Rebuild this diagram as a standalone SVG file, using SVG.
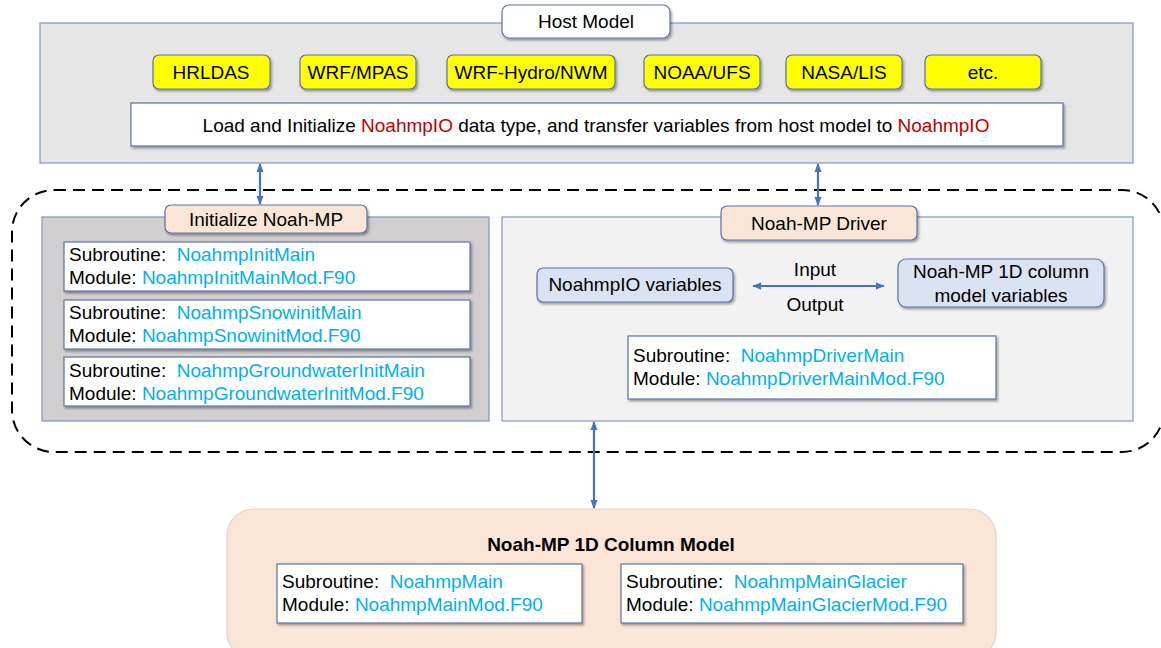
<svg xmlns="http://www.w3.org/2000/svg" width="1161" height="648" viewBox="0 0 1161 648">
<defs>
<filter id="sh" x="-5%" y="-10%" width="110%" height="130%">
<feDropShadow dx="1.5" dy="2" stdDeviation="1.2" flood-color="#000" flood-opacity="0.35"/>
</filter>
<marker id="ah" viewBox="0 0 10 10" refX="9" refY="5" markerWidth="9" markerHeight="9" markerUnits="userSpaceOnUse" orient="auto-start-reverse">
<path d="M0,1 L10,5 L0,9 Z" fill="#4472c4"/>
</marker>
</defs>
<style>
text{font-family:"Liberation Sans",Arial,sans-serif;font-size:19px;fill:#000}
.b{fill:#00b0f0}
.r{fill:#c00000}
.yel{fill:#ffff00;stroke:#5b72a6;stroke-width:1.2}
.sub{fill:#fff;stroke:#5b72a6;stroke-width:1.2}
.peach{fill:#fbe5d6;stroke:#5b72a6;stroke-width:1.2}
.lb{fill:#dae3f3;stroke:#5b72a6;stroke-width:1.2}
.conn{stroke:#4472c4;stroke-width:2.2;fill:none;marker-start:url(#ah);marker-end:url(#ah)}
</style>
<rect width="1161" height="648" fill="#fff"/>

<g id="dashed-region">
<rect x="12" y="190" width="1152" height="262" rx="42" fill="none" stroke="#000" stroke-width="2" stroke-dasharray="12,7"/>
</g>

<g id="host-model">
<rect x="40" y="23" width="1093" height="140" fill="#e7e6e6" stroke="#7f96c4" stroke-width="1.2"/>
<rect x="502" y="5" width="168" height="33" rx="7" fill="#fff" stroke="#5b72a6" stroke-width="1.2" filter="url(#sh)"/>
<text x="586" y="28" text-anchor="middle">Host Model</text>
</g>
<g id="hrldas"><rect class="yel" x="153" y="55" width="117" height="34" rx="6" filter="url(#sh)"/><text x="211" y="79" text-anchor="middle">HRLDAS</text></g>
<g id="wrf-mpas"><rect class="yel" x="300" y="55" width="116" height="34" rx="6" filter="url(#sh)"/><text x="358" y="79" text-anchor="middle">WRF/MPAS</text></g>
<g id="wrf-hydro"><rect class="yel" x="447" y="55" width="168" height="34" rx="6" filter="url(#sh)"/><text x="531" y="79" text-anchor="middle">WRF-Hydro/NWM</text></g>
<g id="noaa-ufs"><rect class="yel" x="644" y="55" width="116" height="34" rx="6" filter="url(#sh)"/><text x="702" y="79" text-anchor="middle">NOAA/UFS</text></g>
<g id="nasa-lis"><rect class="yel" x="786" y="55" width="116" height="34" rx="6" filter="url(#sh)"/><text x="844" y="79" text-anchor="middle">NASA/LIS</text></g>
<g id="etc"><rect class="yel" x="925" y="55" width="116" height="34" rx="6" filter="url(#sh)"/><text x="983" y="79" text-anchor="middle">etc.</text></g>
<g id="load-init">
<rect class="sub" x="131" y="103" width="932" height="43" filter="url(#sh)"/>
<text x="596" y="132" text-anchor="middle">Load and Initialize <tspan class="r">NoahmpIO</tspan> data type, and transfer variables from host model to <tspan class="r">NoahmpIO</tspan></text>
</g>

<g id="initialize-noahmp">
<rect x="42" y="217" width="447" height="204" fill="#d0cece" stroke="#7f96c4" stroke-width="1.2"/>
<rect class="peach" x="165" y="205" width="202" height="28" rx="6" filter="url(#sh)"/>
<text x="266" y="226" text-anchor="middle">Initialize Noah-MP</text>
</g>
<g id="init-main">
<rect class="sub" x="64" y="242" width="406" height="49" filter="url(#sh)"/>
<text x="69" y="261">Subroutine:&#160; <tspan class="b">NoahmpInitMain</tspan></text>
<text x="69" y="284">Module: <tspan class="b">NoahmpInitMainMod.F90</tspan></text>
</g>
<g id="snow-init">
<rect class="sub" x="64" y="300" width="406" height="49" filter="url(#sh)"/>
<text x="69" y="319">Subroutine:&#160; <tspan class="b">NoahmpSnowinitMain</tspan></text>
<text x="69" y="342">Module: <tspan class="b">NoahmpSnowinitMod.F90</tspan></text>
</g>
<g id="gw-init">
<rect class="sub" x="64" y="357" width="406" height="49" filter="url(#sh)"/>
<text x="69" y="377">Subroutine:&#160; <tspan class="b">NoahmpGroundwaterInitMain</tspan></text>
<text x="69" y="400">Module: <tspan class="b">NoahmpGroundwaterInitMod.F90</tspan></text>
</g>

<g id="noahmp-driver">
<rect x="502" y="217" width="631" height="204" fill="#f2f2f2" stroke="#7f96c4" stroke-width="1.2"/>
<rect class="peach" x="721" y="206" width="196" height="34" rx="6" filter="url(#sh)"/>
<text x="819" y="230" text-anchor="middle">Noah-MP Driver</text>
</g>
<g id="noahmpio-vars">
<rect class="lb" x="537" y="268" width="196" height="34" rx="6" filter="url(#sh)"/>
<text x="635" y="291" text-anchor="middle">NoahmpIO variables</text>
</g>
<g id="column-vars">
<rect class="lb" x="898" y="259" width="206" height="48" rx="8" filter="url(#sh)"/>
<text x="1001" y="278" text-anchor="middle">Noah-MP 1D column</text>
<text x="1001" y="302" text-anchor="middle">model variables</text>
</g>
<g id="driver-main">
<rect class="sub" x="628" y="336" width="368" height="63" filter="url(#sh)"/>
<text x="633" y="362">Subroutine:&#160; <tspan class="b">NoahmpDriverMain</tspan></text>
<text x="633" y="385">Module: <tspan class="b">NoahmpDriverMainMod.F90</tspan></text>
</g>

<g id="column-model">
<rect x="227" y="509" width="769" height="150" rx="27" fill="#fbe5d6" stroke="#e8d2c4" stroke-width="1.2"/>
<text x="611" y="551" text-anchor="middle" font-weight="bold">Noah-MP 1D Column Model</text>
</g>
<g id="noahmp-main">
<rect class="sub" x="277" y="564" width="305" height="59" stroke="none" filter="url(#sh)"/>
<text x="282" y="588">Subroutine:&#160; <tspan class="b">NoahmpMain</tspan></text>
<text x="282" y="611">Module: <tspan class="b">NoahmpMainMod.F90</tspan></text>
</g>
<g id="noahmp-main-glacier">
<rect class="sub" x="621" y="564" width="342" height="59" stroke="none" filter="url(#sh)"/>
<text x="626" y="588">Subroutine:&#160; <tspan class="b">NoahmpMainGlacier</tspan></text>
<text x="626" y="611">Module: <tspan class="b">NoahmpMainGlacierMod.F90</tspan></text>
</g>

<g id="connectors">
<line class="conn" x1="260" y1="164" x2="260" y2="204"/>
<line class="conn" x1="818" y1="164" x2="818" y2="205"/>
<line class="conn" x1="753" y1="286" x2="884" y2="286"/>
<line class="conn" x1="594" y1="422" x2="594" y2="508"/>
<text x="815" y="276" text-anchor="middle">Input</text>
<text x="815" y="311" text-anchor="middle">Output</text>
</g>
</svg>
